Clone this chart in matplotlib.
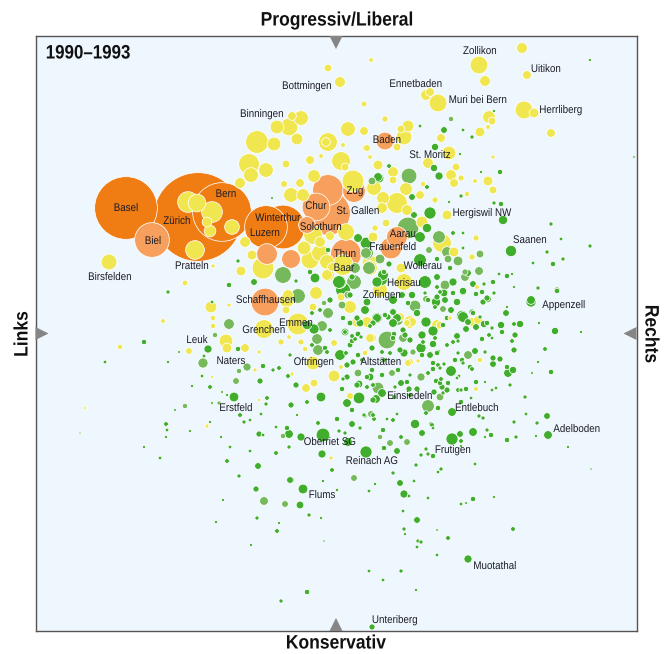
import numpy as np
import matplotlib
matplotlib.use("Agg")
import matplotlib.pyplot as plt
from matplotlib.patches import Polygon
from matplotlib.patheffects import AbstractPathEffect
from matplotlib.transforms import Affine2D

grossstadt = [(126, 208, 31), (198, 217, 44), (222, 212, 29), (283, 227, 21.5), (266, 227, 21)]

mittelstadt = [(152, 240, 17), (328, 213, 22), (328, 190, 15), (316, 207, 13.5), (354, 191, 11),
               (346, 254, 15), (385, 141, 8.5), (397, 237, 10), (391, 248, 10.5), (265, 302, 13.5),
               (267, 254, 10), (291, 259, 9), (307, 225, 8)]

gelb = [(109, 262, 7.5), (328, 68, 3.5), (340, 82, 5), (371, 60, 2), (364, 104, 2.5), (301, 118, 7),
        (289, 127, 8.5), (277, 127, 6.5), (292, 116, 4), (297, 139, 5.5), (348, 129, 7), (364, 131, 4),
        (257, 142, 11), (274, 144, 6.5), (328, 142, 9), (326, 142, 4), (343, 145, 2), (366, 148, 3.5),
        (341, 161, 9), (345, 167, 3.5), (370, 157, 2), (249, 164, 10), (310, 160, 4), (321, 156, 2),
        (286, 164, 3.5), (266, 170, 7), (251, 175, 7), (240, 183, 5), (284, 184, 3), (300, 183, 4),
        (291, 195, 7), (314, 176, 6), (353, 181, 10.5), (303, 195, 6), (188, 202, 10), (197, 203, 8.5),
        (212, 212, 10), (207, 222, 4.5), (210, 231, 5.5), (232, 227, 7), (195, 250, 9), (245, 242, 5),
        (252, 255, 4.5), (263, 268, 10.5), (241, 271, 4.5), (213, 266, 1.7), (185, 283, 2.5), (304, 248, 6.5),
        (313, 235, 9), (320, 242, 5), (310, 260, 8.5), (327, 275, 5), (332, 267, 4), (320, 253, 8),
        (330, 236, 4), (346, 232, 8), (327, 262, 7), (343, 265, 10), (328, 275, 6), (373, 237, 4.5),
        (370, 263, 7.5), (373, 188, 7), (522, 48, 5),
        (479, 65, 8.5), (527, 75, 4), (485, 81, 5), (426, 95, 5), (430, 92, 4), (438, 103, 8.5),
        (524, 110, 8.5), (534, 113, 4.5), (489, 117, 6), (492, 121, 3.5), (488, 127, 2), (480, 132, 4.5),
        (551, 133, 4), (385, 119, 2.7), (408, 126, 5.5), (401, 129, 3.5), (404, 137, 7.5), (441, 138, 4),
        (397, 147, 3.5), (367, 148, 3), (449, 153, 6.5), (428, 163, 5), (493, 157, 1.7), (456, 167, 3.5),
        (378, 165, 4.5), (393, 172, 5), (451, 175, 5), (461, 178, 2.7), (454, 183, 4), (475, 181, 2),
        (488, 181, 4.5), (493, 190, 3.5), (467, 194, 2.3), (393, 180, 3.5), (374, 188, 7), (406, 189, 6),
        (423, 184, 2.3), (420, 195, 4), (435, 200, 2.7), (397, 203, 10), (383, 198, 6), (382, 208, 5),
        (407, 210, 5), (447, 215, 4.5), (422, 222, 5.5), (386, 223, 3.5), (375, 228, 2.7), (442, 243, 9),
        (454, 252, 4.5), (476, 238, 2.7), (472, 257, 2.7), (370, 268, 7), (401, 268, 4.5), (404, 282, 8),
        (380, 290, 7), (477, 287, 2), (211, 307, 5.5), (229, 305, 1.7), (213, 318, 2.3), (213, 326, 2.3),
        (226, 341, 6.5), (227, 348, 4.5), (245, 348, 4), (189, 351, 3), (264, 329, 9), (298, 324, 10.5),
        (287, 300, 7), (316, 293, 6), (286, 310, 3.5), (288, 295, 5), (313, 307, 3.5), (334, 376, 5.5),
        (306, 388, 4), (314, 383, 3.5), (313, 363, 6.5), (281, 342, 2.7), (289, 337, 2), (301, 342, 2.7),
        (305, 349, 2.3), (334, 343, 3), (367, 322, 5), (350, 307, 6), (341, 297, 3.5), (350, 396, 3),
        (255, 370, 1.7), (207, 426, 1.7), (259, 352, 1.7), (331, 458, 1.7), (259, 400, 1.3), (212, 377, 1.3),
        (341, 367, 2), (292, 374, 1.7), (372, 338, 4), (366, 352, 2.3), (410, 322, 6), (440, 325, 3.5),
        (472, 322, 4), (410, 362, 3), (480, 360, 2.3), (476, 389, 2), (418, 361, 1.7), (450, 318, 1.7),
        (163, 321, 2), (120, 347, 2.3), (85, 408, 1), (357, 322, 5), (370, 338, 4), (407, 323, 3),
        (437, 325, 5), (365, 353, 2.3), (408, 363, 3), (400, 317, 4), (412, 322, 4), (478, 320, 4)]

hellgruen = [(283, 275, 8), (298, 296, 7), (372, 181, 3.5), (367, 253, 6), (409, 176, 7.5), (451, 119, 2.3),
             (408, 228, 10.5), (439, 237, 6), (447, 252, 5), (448, 259, 3.5), (458, 261, 4.5), (429, 250, 3),
             (480, 254, 3.5), (479, 271, 4), (465, 277, 4), (445, 285, 4.5), (355, 268, 5), (354, 282, 7),
             (380, 259, 4.5), (366, 253, 5), (229, 324, 5), (203, 363, 4.7), (247, 367, 3.7), (239, 371, 2.3),
             (236, 381, 3), (215, 335, 2.3), (185, 406, 2.3), (317, 339, 5), (322, 326, 5), (328, 313, 5),
             (324, 303, 2.3), (342, 305, 3.5), (348, 295, 3.5), (387, 340, 8.5), (378, 388, 5.5), (371, 414, 3),
             (354, 478, 3), (283, 436, 2.3), (264, 501, 4), (285, 504, 3), (390, 443, 3), (318, 350, 5),
             (358, 373, 3.5), (415, 306, 5.5), (421, 377, 3.7), (428, 406, 6), (440, 397, 3.5), (403, 338, 4),
             (413, 352, 2.7), (407, 442, 3), (468, 355, 4), (457, 302, 3.5), (426, 299, 3), (443, 309, 3),
             (392, 373, 3), (380, 437, 2.3), (222, 392, 1.3), (219, 403, 1.7), (369, 268, 6),
             (340, 282, 6), (398, 320, 5), (465, 272, 2.7)]

gruen = [(303, 489, 4.5), (291, 480, 3), (323, 481, 1.3), (223, 500, 1.2), (300, 505, 3.5), (337, 490, 1.3),
         (375, 484, 1.3), (369, 491, 1.5), (400, 483, 3), (414, 481, 1.5), (404, 494, 3.7), (409, 496, 1.5),
         (428, 498, 1.5), (473, 499, 2.3), (461, 504, 1.5), (466, 503, 1), (494, 497, 1.2), (309, 515, 1.7),
         (321, 518, 1.2), (257, 518, 1.7), (216, 522, 1.2), (279, 523, 1.2), (277, 531, 2), (251, 545, 1.2),
         (324, 541, 0.8), (403, 511, 1.5), (417, 520, 3), (404, 529, 1.7), (405, 534, 1.2), (437, 530, 0.9),
         (448, 538, 2), (418, 541, 1.7), (421, 542, 1.7), (417, 547, 1.5), (437, 555, 1.5), (513, 529, 2),
         (468, 559, 3.7), (401, 571, 1.7), (369, 571, 1.5), (383, 580, 1.5), (416, 590, 1.2), (307, 592, 2.3),
         (281, 601, 1.7), (372, 627, 2.7), (229, 285, 2.3), (168, 292, 1.7), (212, 302, 1.5), (144, 342, 2.3),
         (105, 362, 1.5), (208, 349, 3.7), (204, 356, 1.5), (179, 352, 1), (168, 362, 1.2), (202, 376, 1.5),
         (192, 386, 1.2), (210, 387, 2), (234, 397, 4.5), (227, 395, 1.2), (212, 403, 1), (175, 410, 1),
         (166, 424, 2), (167, 430, 1.5), (166, 437, 1.2), (190, 431, 1.2), (210, 422, 1.2), (221, 437, 1.2),
         (230, 447, 1.5), (144, 447, 1.2), (160, 458, 1.5), (227, 461, 2), (80, 433, 0.7), (238, 349, 2.3),
         (263, 366, 2.3), (260, 381, 2.7), (279, 368, 2), (288, 376, 2), (296, 385, 2.7), (267, 398, 2),
         (266, 404, 1.7), (291, 405, 2.7), (307, 402, 2), (321, 397, 4.5), (240, 415, 2), (244, 422, 1.7),
         (250, 420, 1.5), (261, 414, 1.5), (297, 415, 1.2), (276, 427, 1.5), (259, 434, 2.7), (263, 435, 1.5),
         (287, 428, 2.3), (289, 434, 4), (301, 437, 3.7), (323, 435, 6.5), (337, 419, 2.3), (318, 423, 2),
         (352, 424, 3), (339, 431, 1.7), (345, 433, 1.7), (365, 416, 1.7), (374, 419, 2), (387, 419, 1.5),
         (397, 414, 1.5), (366, 452, 5.7), (322, 454, 3.7), (397, 451, 3), (384, 448, 2.3), (401, 437, 2),
         (250, 451, 1.5), (276, 453, 2), (289, 447, 1.7), (258, 466, 3), (239, 476, 1.7), (332, 470, 2),
         (290, 480, 3), (256, 489, 2.7), (393, 473, 1.7), (340, 355, 5), (347, 403, 4), (359, 398, 5.5),
         (382, 393, 4), (342, 389, 2.3), (373, 400, 2.7), (359, 384, 3.5), (343, 379, 1.7), (314, 329, 4.7),
         (325, 348, 2.3), (355, 339, 2), (360, 323, 3.5), (377, 318, 4), (367, 302, 3.5), (370, 326, 2),
         (350, 323, 2.5), (345, 332, 2), (358, 334, 2.5), (397, 318, 4), (403, 330, 2.7), (400, 350, 2.7),
         (370, 377, 3.5), (531, 302, 4.7), (506, 313, 3), (520, 324, 3.3), (514, 324, 2), (501, 325, 3.3),
         (502, 332, 2.3), (515, 335, 2.7), (512, 341, 2), (514, 350, 2.7), (555, 331, 3.3), (539, 323, 1.2),
         (581, 332, 1.2), (545, 349, 2), (538, 362, 1.2), (551, 372, 2.3), (532, 373, 1), (513, 370, 3.3),
         (507, 367, 2.3), (508, 373, 4), (500, 359, 2.7), (493, 358, 2.7), (493, 364, 3), (485, 352, 1.7),
         (475, 351, 3), (451, 371, 5), (462, 360, 2.3), (470, 367, 2.3), (472, 369, 2), (480, 317, 1.7),
         (484, 324, 3.3), (487, 323, 2.3), (492, 328, 1.7), (482, 339, 2.3), (489, 335, 2), (492, 338, 1.5),
         (466, 329, 3), (476, 327, 3), (457, 336, 3), (453, 342, 2), (458, 341, 1.7), (433, 344, 3.3),
         (438, 352, 2.3), (421, 348, 4.7), (422, 335, 3.7), (426, 322, 4.7), (433, 331, 4.7), (436, 302, 4.3),
         (445, 300, 3), (451, 310, 3), (462, 316, 5.3), (468, 322, 3), (476, 294, 2.3), (483, 302, 2.7),
         (488, 299, 3), (494, 293, 1.7), (463, 292, 3.3), (557, 291, 2.3), (507, 307, 1.2), (404, 353, 3.7),
         (405, 335, 2.7), (438, 365, 2), (433, 369, 2.3), (444, 364, 1.7), (436, 381, 2.3), (441, 379, 2),
         (459, 376, 1.5), (457, 378, 1.5), (476, 382, 2.3), (485, 382, 1.2), (466, 389, 2.3), (461, 390, 1.7),
         (447, 390, 2.7), (442, 387, 2.7), (434, 392, 2.7), (417, 389, 2.7), (409, 389, 2.7), (401, 383, 3),
         (407, 382, 2.3), (510, 385, 1.7), (496, 388, 1.5), (492, 390, 1.5), (525, 397, 1.7), (471, 398, 1.5),
         (526, 414, 1.5), (452, 412, 4), (461, 402, 2.3), (438, 408, 2.3), (426, 413, 2), (479, 416, 1.7),
         (483, 418, 1.7), (514, 422, 1.7), (537, 423, 1.7), (547, 416, 3), (415, 424, 4.3), (422, 433, 3),
         (431, 424, 2), (433, 428, 1.5), (473, 432, 4), (460, 434, 3), (452, 439, 5.7), (487, 430, 1.7),
         (491, 435, 2.3), (485, 437, 1.2), (507, 440, 2.3), (516, 437, 1.7), (548, 435, 4), (536, 436, 1.2),
         (568, 447, 1.2), (461, 441, 2), (461, 446, 1.2), (433, 456, 2.3), (426, 449, 1.7), (421, 455, 1.7),
         (428, 454, 1.7), (416, 465, 1.7), (441, 469, 1.7), (438, 472, 1.5), (475, 464, 1.5), (591, 469, 0.8),
         (590, 60, 1.2), (634, 157, 0.9), (444, 130, 3), (420, 126, 1.5), (463, 130, 1.5), (472, 137, 1.7),
         (494, 111, 1.2), (435, 147, 3.3), (460, 154, 1.2), (434, 168, 3.3), (439, 176, 3.7), (389, 166, 2),
         (379, 178, 4.5), (500, 172, 2.3), (481, 172, 1.2), (427, 187, 2), (412, 197, 3), (461, 196, 1.7),
         (449, 202, 1.2), (494, 203, 1.7), (501, 204, 2.3), (430, 213, 5.7), (414, 215, 3), (503, 220, 4.3),
         (427, 228, 4.3), (453, 233, 2), (463, 233, 1.5), (551, 224, 1.7), (561, 239, 1.5), (590, 246, 1.7),
         (511, 251, 5.3), (463, 248, 1.5), (547, 252, 1.7), (563, 259, 1.7), (553, 264, 2.3), (533, 263, 1.5),
         (366, 243, 5.5), (358, 238, 4), (420, 237, 5), (420, 260, 6), (437, 259, 2.3), (437, 277, 3),
         (425, 282, 6), (453, 282, 3.7), (468, 273, 3), (493, 282, 2.3), (507, 276, 2.3), (499, 274, 1.5),
         (512, 274, 1.2), (538, 288, 1.7), (557, 290, 2.7), (514, 287, 1.2), (463, 291, 3.3), (482, 292, 2.3),
         (476, 294, 2.3), (487, 298, 2.7), (531, 300, 4), (389, 264, 2.7), (382, 280, 5), (352, 277, 2.7),
         (343, 290, 7), (384, 272, 2.3), (437, 287, 2), (437, 297, 2.7), (453, 293, 2.3), (238, 261, 1.7),
         (315, 278, 4.5), (296, 281, 1.7), (310, 272, 2.3), (254, 282, 3), (328, 250, 2.3),
         (339, 282, 6), (378, 177, 4), (272, 198, 1), (377, 282, 4.7), (383, 275, 5),
         (393, 300, 4), (377, 318, 5), (444, 293, 3.5), (457, 302, 3.3), (463, 317, 5), (365, 310, 4),
         (357, 318, 2.7), (402, 295, 3), (412, 295, 3.3), (417, 313, 3.3), (408, 303, 2.3), (393, 312, 3),
         (385, 315, 2.3), (428, 300, 2.3), (435, 307, 2), (447, 318, 2.3), (440, 292, 2), (425, 293, 1.7),
         (376, 399, 4), (372, 348, 2.7), (393, 323, 4), (346, 353, 2), (367, 377, 2.3), (382, 375, 2.3),
         (373, 385, 2), (367, 387, 2), (364, 415, 1.7), (373, 415, 2),
         (352, 410, 2.3), (360, 428, 1.7), (383, 430, 2.3), (393, 420, 2), (432, 425, 2), (348, 442, 4),
         (484, 284, 1.7), (473, 284, 3), (472, 312, 2.7), (362, 360, 2), (394, 334, 2.3),
         (410, 340, 2.7), (384, 360, 2), (358, 355, 2.3), (394, 397, 2), (352, 341, 2.3), (343, 318, 2.3),
         (345, 332, 3.5), (352, 336, 2), (361, 337, 1.7), (443, 325, 2.3), (447, 345, 2), (435, 338, 2),
         (423, 342, 2), (393, 338, 2.3), (382, 352, 2), (390, 353, 2), (430, 355, 3), (437, 353, 2.3),
         (422, 355, 2.3), (433, 363, 2.3), (440, 368, 1.7), (458, 353, 1.7), (455, 360, 2.3), (463, 363, 1.7),
         (347, 365, 2.7), (353, 362, 2.7), (372, 370, 2.3), (398, 370, 2.3), (410, 375, 1.7), (428, 373, 2),
         (440, 383, 2.3), (448, 383, 2.3), (458, 390, 2), (443, 393, 1.7), (395, 387, 1.7), (357, 385, 2.7),
         (410, 395, 2), (373, 323, 2.7), (388, 317, 2.7), (473, 313, 2.3), (450, 268, 2.3), (350, 345, 2.5),
         (347, 377, 2.7), (312, 345, 2), (327, 352, 2), (290, 355, 1.7), (273, 370, 1.7), (330, 330, 2),
         (312, 313, 2), (330, 300, 2.7), (350, 295, 2.7), (320, 310, 2), (307, 325, 4.3)]

staedte = ["Zollikon", "Uitikon", "Ennetbaden", "Bottmingen", "Muri bei Bern", "Herrliberg", "Binningen",
           "Baden", "St. Moritz", "Bern", "Zug", "Basel", "Chur", "St. Gallen", "Hergiswil NW", "Zürich",
           "Winterthur", "Solothurn", "Luzern", "Aarau", "Saanen", "Biel", "Frauenfeld", "Thun", "Pratteln",
           "Baar", "Wollerau", "Birsfelden", "Herisau", "Zofingen", "Schaffhausen", "Appenzell", "Emmen",
           "Grenchen", "Leuk", "Naters", "Oftringen", "Altstätten", "Einsiedeln", "Erstfeld", "Entlebuch",
           "Adelboden", "Oberriet SG", "Frutigen", "Reinach AG", "Flums", "Muotathal", "Unteriberg"]
staedte_x = [480, 546, 416, 307, 478, 561, 262, 387, 430, 226, 355, 126, 316, 358, 482, 177, 278, 321, 265,
             403, 530, 153, 393, 345, 192, 344, 423, 110, 404, 382, 266, 564, 296, 264, 197, 231, 314, 381,
             410, 236, 477, 577, 330, 453, 372, 322, 495, 395]
staedte_y = [51, 69, 84, 86, 100, 110, 114, 140, 155, 194, 191, 208, 206, 211, 213, 221, 218, 227, 233,
             234, 240, 241, 247, 254, 266, 268, 266, 277, 283, 295, 300, 305, 323, 330, 340, 361, 362, 362,
             396, 408, 408, 429, 442, 450, 461, 495, 566, 620]

farben = {"grossstadt": "#f07c14", "mittelstadt": "#f79f5c", "gelb": "#f0e650",
          "hellgruen": "#76b95c", "gruen": "#40ae2c"}


class Schmal(AbstractPathEffect):
    # Schrift schmaler ziehen, Narrow-Schnitt ist nicht installiert
    def __init__(self, faktor):
        super().__init__()
        self.faktor = faktor

    def draw_path(self, renderer, gc, tpath, affine, rgbFace=None):
        ext = tpath.get_extents()
        mitte = (ext.x0 + ext.x1) / 2
        skal = Affine2D().translate(-mitte, 0).scale(self.faktor, 1).translate(mitte, 0)
        renderer.draw_path(gc, tpath, skal + affine, rgbFace)


W, H, DPI = 669, 654, 100
plt.rcParams["font.family"] = ["Liberation Sans", "DejaVu Sans"]

fig = plt.figure(figsize=(W / DPI, H / DPI), dpi=DPI)
x0, x1, y0, y1 = 35.5, 636.5, 36, 631
ax = fig.add_axes([x0 / W, 1 - y1 / H, (x1 - x0) / W, (y1 - y0) / H])
ax.set_xlim(x0, x1)
ax.set_ylim(y1, y0)
ax.set_facecolor("#eef6fe")
ax.set_xticks([])
ax.set_yticks([])
for s in ax.spines.values():
    s.set_color("#555555")
    s.set_linewidth(1.0)

# grosse Kreise zuerst, kleine obendrauf
alle, cols = [], []
for name, pts in [("grossstadt", grossstadt), ("mittelstadt", mittelstadt), ("gelb", gelb),
                  ("hellgruen", hellgruen), ("gruen", gruen)]:
    alle += pts
    cols += [farben[name]] * len(pts)
alle = np.array(alle, dtype=float)
cols = np.array(cols)
order = np.argsort(-alle[:, 2], kind="stable")
alle, cols = alle[order], cols[order]
# Radius in Pixel nach Flaeche in pt^2, etwas Zugabe wegen weissem Rand
groesse = (2 * (alle[:, 2] + 0.35) * 72 / DPI) ** 2
ax.scatter(alle[:, 0], alle[:, 1], s=groesse, c=cols, edgecolors="white", linewidths=0.55, zorder=2)

schmal = [Schmal(0.88)]
for name, tx, ty in zip(staedte, staedte_x, staedte_y):
    ax.text(tx, ty, name, ha="center", va="center", fontsize=8, color="#1c1c24", zorder=4, path_effects=schmal)

# Dreiecke an den Achsenmitten
tri = dict(transform=ax.transAxes, facecolor="#858585", edgecolor="none", zorder=3, clip_on=False)
dx, dy = 13 / (x1 - x0), 13 / (y1 - y0)
hx, hy = 6.5 / (x1 - x0), 6.5 / (y1 - y0)
ax.add_patch(Polygon([(0.5 - hx, 1), (0.5 + hx, 1), (0.5, 1 - dy)], **tri))
ax.add_patch(Polygon([(0.5 - hx, 0), (0.5 + hx, 0), (0.5, dy)], **tri))
ax.add_patch(Polygon([(0, 0.5 - hy), (0, 0.5 + hy), (dx, 0.5)], **tri))
ax.add_patch(Polygon([(1, 0.5 - hy), (1, 0.5 + hy), (1 - dx, 0.5)], **tri))

titel = dict(ha="center", va="center", fontsize=14, fontweight="bold", color="#111111", path_effects=[Schmal(0.9)])
fig.text(337 / W, 1 - 21 / H, "Progressiv/Liberal", **titel)
fig.text(336 / W, 1 - 644 / H, "Konservativ", **titel)
fig.text(23 / W, 1 - 334 / H, "Links", rotation=90, **titel)
fig.text(650 / W, 1 - 334 / H, "Rechts", rotation=-90, **titel)
fig.text(88 / W, 1 - 54 / H, "1990–1993", ha="center", va="center", fontsize=14, fontweight="bold",
         color="#111111", path_effects=[Schmal(0.87)])

fig.savefig("out.png", dpi=DPI)
